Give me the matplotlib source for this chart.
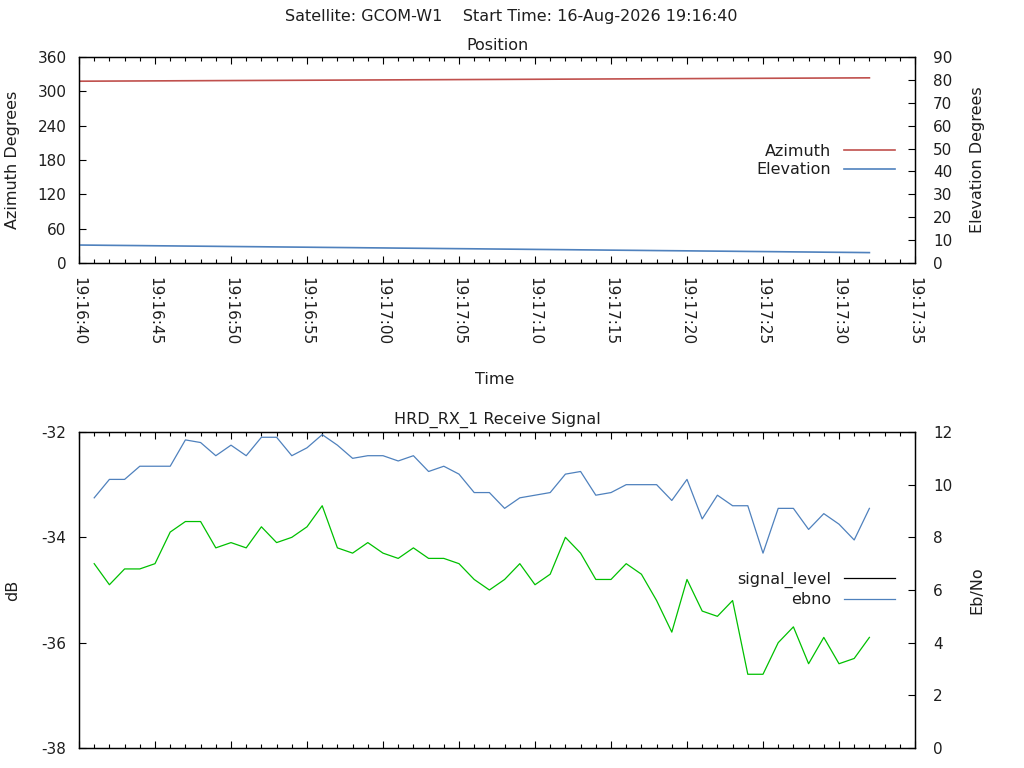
import matplotlib
matplotlib.use("Agg")
import matplotlib.pyplot as plt
from matplotlib.lines import Line2D
from matplotlib.ticker import MultipleLocator, FixedLocator

FS = 11.5      # titles, labels, legend
TFS = 11       # tick labels
plt.rcParams['font.family'] = ['DejaVu Sans']
plt.rcParams['font.size'] = TFS
plt.rcParams['axes.unicode_minus'] = False

# ---------------- data ----------------
suptitle_text = "Satellite: GCOM-W1    Start Time: 16-Aug-2026 19:16:40"

# seconds after 19:16:40
pos_time_s = [0, 1, 2, 3, 4, 5, 6, 7, 8, 9, 10, 11, 12, 13, 14, 15, 16, 17, 18, 19,
              20, 21, 22, 23, 24, 25, 26, 27, 28, 29, 30, 31, 32, 33, 34, 35, 36, 37,
              38, 39, 40, 41, 42, 43, 44, 45, 46, 47, 48, 49, 50, 51, 52]
azimuth_deg = [317.70, 317.81, 317.93, 318.04, 318.15, 318.27, 318.38, 318.49, 318.60,
               318.72, 318.83, 318.94, 319.06, 319.17, 319.28, 319.40, 319.51, 319.62,
               319.73, 319.85, 319.96, 320.07, 320.19, 320.30, 320.41, 320.53, 320.64,
               320.75, 320.86, 320.98, 321.09, 321.20, 321.32, 321.43, 321.54, 321.66,
               321.77, 321.88, 321.99, 322.11, 322.22, 322.33, 322.45, 322.56, 322.67,
               322.79, 322.90, 323.01, 323.12, 323.24, 323.35, 323.46, 323.58]
elevation_deg = [7.85, 7.79, 7.72, 7.66, 7.60, 7.53, 7.47, 7.40, 7.34, 7.28, 7.21, 7.15,
                 7.09, 7.02, 6.96, 6.90, 6.83, 6.77, 6.71, 6.64, 6.58, 6.51, 6.45, 6.39,
                 6.32, 6.26, 6.20, 6.13, 6.07, 6.01, 5.94, 5.88, 5.82, 5.75, 5.69, 5.62,
                 5.56, 5.50, 5.43, 5.37, 5.31, 5.24, 5.18, 5.12, 5.05, 4.99, 4.93, 4.86,
                 4.80, 4.73, 4.67, 4.61, 4.54]

sig_time_s = [1, 2, 3, 4, 5, 6, 7, 8, 9, 10, 11, 12, 13, 14, 15, 16, 17, 18, 19, 20,
              21, 22, 23, 24, 25, 26, 27, 28, 29, 30, 31, 32, 33, 34, 35, 36, 37, 38,
              39, 40, 41, 42, 43, 44, 45, 46, 47, 48, 49, 50, 51, 52]
signal_level_db = [-34.5, -34.9, -34.6, -34.6, -34.5, -33.9, -33.7, -33.7, -34.2, -34.1,
                   -34.2, -33.8, -34.1, -34.0, -33.8, -33.4, -34.2, -34.3, -34.1, -34.3,
                   -34.4, -34.2, -34.4, -34.4, -34.5, -34.8, -35.0, -34.8, -34.5, -34.9,
                   -34.7, -34.0, -34.3, -34.8, -34.8, -34.5, -34.7, -35.2, -35.8, -34.8,
                   -35.4, -35.5, -35.2, -36.6, -36.6, -36.0, -35.7, -36.4, -35.9, -36.4,
                   -36.3, -35.9]
ebno = [9.5, 10.2, 10.2, 10.7, 10.7, 10.7, 11.7, 11.6, 11.1, 11.5,
        11.1, 11.8, 11.8, 11.1, 11.4, 11.9, 11.5, 11.0, 11.1, 11.1,
        10.9, 11.1, 10.5, 10.7, 10.4, 9.7, 9.7, 9.1, 9.5, 9.6,
        9.7, 10.4, 10.5, 9.6, 9.7, 10.0, 10.0, 10.0, 9.4, 10.2,
        8.7, 9.6, 9.2, 9.2, 7.4, 9.1, 9.1, 8.3, 8.9, 8.5,
        7.9, 9.1]

time_tick_s = [0, 5, 10, 15, 20, 25, 30, 35, 40, 45, 50, 55]
time_tick_labels = ['19:16:40', '19:16:45', '19:16:50', '19:16:55', '19:17:00',
                    '19:17:05', '19:17:10', '19:17:15', '19:17:20', '19:17:25',
                    '19:17:30', '19:17:35']

# ---------------- style ----------------
RED = '#c0504d'
BLUE = '#4f81bd'
GREEN = '#00c000'
TXT = '#1e1e1e'
W, H = 1024, 768

fig = plt.figure(figsize=(W / 100, H / 100), dpi=100)


def axes_px(left, top, right, bottom):
    return fig.add_axes([left / W, 1 - bottom / H, (right - left) / W, (bottom - top) / H])


def style_x(ax):
    ax.set_xlim(0, 55)
    ax.xaxis.set_major_locator(FixedLocator(time_tick_s))
    ax.xaxis.set_minor_locator(MultipleLocator(1))
    ax.tick_params(axis='x', which='both', direction='in', top=True, bottom=True)
    ax.tick_params(axis='x', which='major', length=5, width=0.8)
    ax.tick_params(axis='x', which='minor', length=3, width=0.8)


def style_y(ax, side):
    ax.tick_params(axis='y', which='major', direction='in', length=5, width=0.8,
                   pad=9 if side == 'left' else 13, labelcolor=TXT)
    for s in ax.spines.values():
        s.set_linewidth(0.9)


# ---------------- top: position ----------------
ax1 = axes_px(79, 57, 915, 263)
ax1b = ax1.twinx()
ax1.plot(pos_time_s, azimuth_deg, color=RED, lw=1.2, label='Azimuth')
lb, = ax1b.plot(pos_time_s, elevation_deg, color=BLUE, lw=1.2, label='Elevation')
ax1.set_ylim(0, 360)
ax1.set_yticks([0, 60, 120, 180, 240, 300, 360])
ax1b.set_ylim(0, 90)
ax1b.set_yticks([0, 10, 20, 30, 40, 50, 60, 70, 80, 90])
style_x(ax1)
ax1.set_xticks(time_tick_s)
ax1.set_xticklabels(time_tick_labels, rotation=-90)
ax1.tick_params(axis='x', which='major', pad=10, labelcolor=TXT)
style_y(ax1, 'left')
style_y(ax1b, 'right')
ax1.set_title('Position', y=1 + 11 / 206, va='center', pad=0, fontsize=FS, color=TXT)
ax1.set_ylabel('Azimuth Degrees', va='center', color=TXT, fontsize=FS)
ax1.yaxis.set_label_coords((13 - 79) / 836, 0.5)
ax1b.set_ylabel('Elevation Degrees', va='center', rotation=90, color=TXT, fontsize=FS)
ax1b.yaxis.set_label_coords((977 - 79) / 836, 0.5)
ax1.set_xlabel('Time', va='center', color=TXT, fontsize=FS)
ax1.xaxis.set_label_coords((495 - 79) / 836, (263 - 379) / 206)

h_az = Line2D([], [], color=RED, lw=1.2)
ax1b.legend([h_az, lb], ['Azimuth', 'Elevation'], loc='center right',
            bbox_to_anchor=((895 - 79) / 836, (263 - 160.5) / 206),
            frameon=False, markerfirst=False, borderpad=0, borderaxespad=0,
            handlelength=3.2, handletextpad=0.8, labelspacing=0.25, fontsize=FS,
            labelcolor=TXT)

# ---------------- bottom: receive signal ----------------
ax2 = axes_px(79, 432, 915, 748)
ax2b = ax2.twinx()
ax2.plot(sig_time_s, signal_level_db, color=GREEN, lw=0.9)
le, = ax2b.plot(sig_time_s, ebno, color=BLUE, lw=0.9)
ax2.set_ylim(-38, -32)
ax2.set_yticks([-38, -36, -34, -32])
ax2b.set_ylim(0, 12)
ax2b.set_yticks([0, 2, 4, 6, 8, 10, 12])
style_x(ax2)
ax2.set_xticklabels([])
style_y(ax2, 'left')
style_y(ax2b, 'right')
ax2.set_title('HRD_RX_1 Receive Signal', y=1 + 12 / 316, va='center', pad=0,
              fontsize=FS, color=TXT)
ax2.set_ylabel('dB', va='center', color=TXT, fontsize=FS)
ax2.yaxis.set_label_coords((13 - 79) / 836, 0.5)
ax2b.set_ylabel('Eb/No', va='center', rotation=90, color=TXT, fontsize=FS)
ax2b.yaxis.set_label_coords((977 - 79) / 836, 0.5)

h_sig = Line2D([], [], color='black', lw=0.9)
ax2b.legend([h_sig, le], ['signal_level', 'ebno'], loc='center right',
            bbox_to_anchor=((895 - 79) / 836, (748 - 589.5) / 316),
            frameon=False, markerfirst=False, borderpad=0, borderaxespad=0,
            handlelength=3.2, handletextpad=0.8, labelspacing=0.25, fontsize=FS,
            labelcolor=TXT)

fig.text(511 / W, 1 - 17 / H, suptitle_text, ha='center', va='center', fontsize=FS,
         color=TXT)

fig.savefig('out.png', dpi=100)
